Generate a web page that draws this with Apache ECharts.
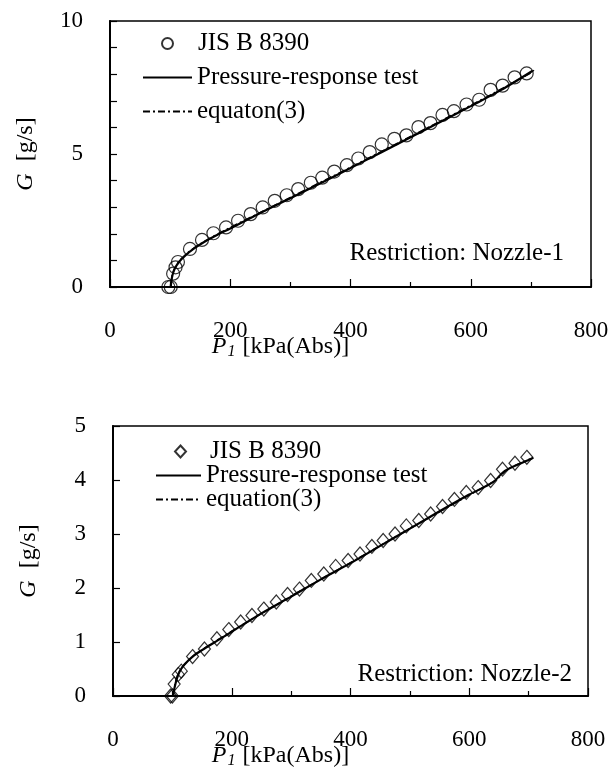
<!DOCTYPE html>
<html><head><meta charset="utf-8">
<script src="https://cdn.jsdelivr.net/npm/echarts@6/dist/echarts.min.js"></script>
<style>html,body{margin:0;padding:0;background:#fff}#c{width:610px;height:767px}</style>
</head><body><div id="c"></div>
<script>
// ---- Nozzle-1 (top) ----
const jis1P = [97,101,105,109,113,133,153,172,193,213,234,254,274,294,313,334,353,373,394,413,432,452,473,493,513,533,553,572,593,614,633,653,673,693];
const jis1G = [0,0,0.5,0.74,0.94,1.43,1.77,2.02,2.24,2.49,2.74,2.99,3.24,3.45,3.68,3.92,4.11,4.34,4.58,4.83,5.07,5.36,5.57,5.70,6.01,6.16,6.47,6.61,6.86,7.04,7.41,7.57,7.88,8.03];
const prt1P = [101,102,104,108,115,125,140,160,180,200,250,300,350,400,450,500,550,600,650,703];
const prt1G = [0,0.2,0.45,0.7,0.95,1.18,1.45,1.74,1.98,2.2,2.78,3.34,3.9,4.47,5.05,5.63,6.21,6.8,7.4,8.13];
const eq1P = [101,103,107,115,130,150,200,250,300,400,500,600,700,705];
const eq1G = [0,0.4,0.68,0.97,1.3,1.62,2.24,2.8,3.37,4.5,5.66,6.83,8.05,8.15];
// ---- Nozzle-2 (bottom) ----
const jis2P = [97,100,103,110,115,134,154,175,195,215,234,254,275,294,314,334,355,375,396,416,436,455,475,494,515,535,555,575,595,615,636,656,677,697];
const jis2G = [0,0,0.22,0.40,0.46,0.73,0.87,1.06,1.23,1.37,1.49,1.61,1.74,1.88,1.98,2.14,2.26,2.40,2.51,2.63,2.77,2.88,3.00,3.15,3.25,3.37,3.51,3.64,3.77,3.86,3.99,4.20,4.31,4.42];
const prt2P = [101,103,107,112,120,135,150,175,200,250,300,350,400,450,500,550,600,640,660,700,708];
const prt2G = [0,0.12,0.3,0.45,0.58,0.74,0.85,1.02,1.19,1.53,1.84,2.16,2.46,2.78,3.1,3.42,3.73,3.96,4.17,4.37,4.41];
const eq2P = [101,104,110,120,140,175,200,300,400,500,600,645,665,705];
const eq2G = [0,0.2,0.42,0.58,0.78,1.03,1.2,1.85,2.47,3.1,3.72,4.0,4.2,4.4];
// ---- labels ----
const legendNames1 = ['JIS B 8390','Pressure-response test','equaton(3)'];
const legendNames2 = ['JIS B 8390 ','Pressure-response test ','equation(3)'];
const restriction1 = 'Restriction: Nozzle-1';
const restriction2 = 'Restriction: Nozzle-2';

const F = 'Liberation Serif, Times New Roman, serif';
const FS = 25;
const zip = (a,b)=>a.map((v,i)=>[v,b[i]]);
const txt = {fontFamily:F,color:'#000'};

function xAxis(gi){
  return {type:'value',gridIndex:gi,min:0,max:800,interval:200,
    name:'{i|P}{s|1} [kPa(Abs)]',nameLocation:'middle',nameGap:47,nameMoveOverlap:false,
    nameTextStyle:{fontFamily:F,fontSize:24,color:'#000',padding:[0,140,0,0],
      rich:{i:{fontFamily:F,fontSize:24,fontStyle:'italic'},s:{fontFamily:F,fontSize:16,fontStyle:'italic',padding:[10,1,0,1]}}},
    axisLine:{lineStyle:{color:'#000',width:2}},
    axisTick:{inside:true,length:8,lineStyle:{color:'#000',width:1.2}},
    minorTick:{show:true,splitNumber:2,length:5,lineStyle:{color:'#000',width:1.2}},
    splitLine:{show:false},minorSplitLine:{show:false},
    axisLabel:{margin:32,fontSize:23,fontFamily:F,color:'#000'}};
}
function yAxis(gi,max,interval,minor){
  const a = {type:'value',gridIndex:gi,min:0,max:max,interval:interval,
    name:'{i|G}  [g/s]',nameLocation:'middle',nameGap:72,nameMoveOverlap:false,
    nameTextStyle:{fontFamily:F,fontSize:24,color:'#000',rich:{i:{fontFamily:F,fontSize:24,fontStyle:'italic'}}},
    axisLine:{lineStyle:{color:'#000',width:2}},
    axisTick:{inside:true,length:7,lineStyle:{color:'#000',width:1.2}},
    splitLine:{show:false},
    axisLabel:{margin:27,fontSize:23,fontFamily:F,color:'#000'}};
  if(minor){a.minorTick={show:true,splitNumber:minor,length:7,lineStyle:{color:'#000',width:1.2}};a.minorSplitLine={show:false};}
  return a;
}
function lgLine(name,left,top,w){
  return {data:[name],left:left,top:top,padding:0,itemWidth:w,itemHeight:12,itemGap:5,
    itemStyle:{color:'rgba(0,0,0,0)',borderWidth:0,opacity:0},
    textStyle:{fontFamily:F,fontSize:FS,color:'#000',lineHeight:24},selectedMode:false};
}
function lgSym(name,left,top,w,h,pad){
  return {data:[name],left:left,top:top,padding:0,itemWidth:w,itemHeight:h,itemGap:5,
    textStyle:{fontFamily:F,fontSize:FS,color:'#000',lineHeight:24,padding:[0,0,0,pad]},selectedMode:false};
}
const hollow = {color:'rgba(0,0,0,0)',borderColor:'#000',borderWidth:1.2};
const dashdot = [7,3,2,3];

const option = {
  animation:false,
  backgroundColor:'#fff',
  color:['#000'],
  grid:[
    {left:110,top:21,width:481,height:266,show:true,borderColor:'#000',borderWidth:1.5,backgroundColor:'transparent',outerBoundsMode:'none',containLabel:false},
    {left:113,top:426,width:475,height:270,show:true,borderColor:'#000',borderWidth:1.5,backgroundColor:'transparent',outerBoundsMode:'none',containLabel:false}
  ],
  xAxis:[xAxis(0),xAxis(1)],
  yAxis:[yAxis(0,10,5,5),yAxis(1,5,1,0)],
  legend:[
    lgSym(legendNames1[0],161,31,11,11,20),
    lgLine(legendNames1[1],142,65,49),
    lgLine(legendNames1[2],142,99,49),
    lgSym(legendNames2[0],174,439,11,12,19),
    lgLine(legendNames2[1],155,463,45),
    lgLine(legendNames2[2],155,487,45)
  ],
  series:[
    {name:legendNames1[0],type:'scatter',xAxisIndex:0,yAxisIndex:0,symbol:'circle',symbolSize:13,itemStyle:hollow,data:zip(jis1P,jis1G),z:2},
    {name:legendNames1[1],type:'line',xAxisIndex:0,yAxisIndex:0,symbol:'none',smooth:0.3,itemStyle:{color:'#000'},lineStyle:{color:'#000',width:2.2},data:zip(prt1P,prt1G),z:3},
    {name:legendNames1[2],type:'line',xAxisIndex:0,yAxisIndex:0,symbol:'none',smooth:0.3,itemStyle:{color:'#000'},lineStyle:{color:'#000',width:1.5,type:dashdot},data:zip(eq1P,eq1G),z:3},
    {name:legendNames2[0],type:'scatter',xAxisIndex:1,yAxisIndex:1,symbol:'diamond',symbolSize:[12,14],itemStyle:hollow,data:zip(jis2P,jis2G),z:2},
    {name:legendNames2[1],type:'line',xAxisIndex:1,yAxisIndex:1,symbol:'none',smooth:0.3,itemStyle:{color:'#000'},lineStyle:{color:'#000',width:2.2},data:zip(prt2P,prt2G),z:3},
    {name:legendNames2[2],type:'line',xAxisIndex:1,yAxisIndex:1,symbol:'none',smooth:0.3,itemStyle:{color:'#000'},lineStyle:{color:'#000',width:1.5,type:dashdot},data:zip(eq2P,eq2G),z:3}
  ],
  graphic:[
    {type:'text',right:46,top:241,style:Object.assign({text:restriction1,fontSize:FS},txt)},
    {type:'text',right:38,top:662,style:Object.assign({text:restriction2,fontSize:FS},txt)}
  ]
};
const chart = echarts.init(document.getElementById('c'),null,{renderer:'canvas'});
chart.setOption(option);
</script></body></html>
